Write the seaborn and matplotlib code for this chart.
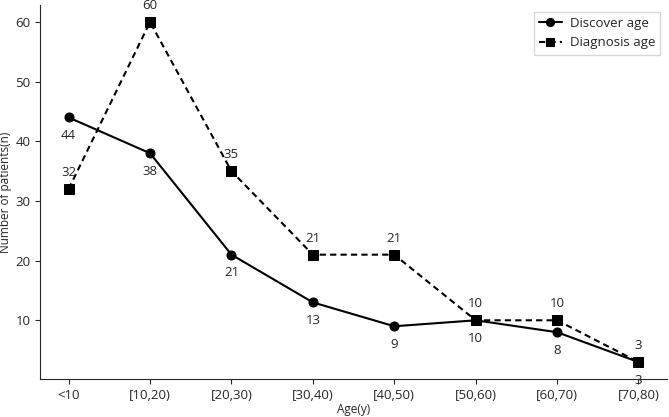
import pandas as pd
import numpy as np
import matplotlib
matplotlib.use('Agg')
import matplotlib.pyplot as plt
import seaborn as sns

# donnees
age_groups = ['<10', '[10,20)', '[20,30)', '[30,40)', '[40,50)', '[50,60)', '[60,70)', '[70,80)']
discover = [44, 38, 21, 13, 9, 10, 8, 3]
diagnosis = [32, 60, 35, 21, 21, 10, 10, 3]

sns.set_style('ticks')
plt.rcParams['font.family'] = ['Open Sans', 'DejaVu Sans']

x = np.arange(len(age_groups))
df = pd.DataFrame({
    'x': np.concatenate([x, x]),
    'n': discover + diagnosis,
    'group': ['Discover age'] * len(x) + ['Diagnosis age'] * len(x),
})

fig = plt.figure(figsize=(6.69, 4.17), dpi=100)
ax = fig.add_axes([0.06, 0.091, 0.937, 0.897])

sns.lineplot(
    data=df, x='x', y='n', hue='group', style='group',
    palette={'Discover age': 'black', 'Diagnosis age': 'black'},
    dashes={'Discover age': '', 'Diagnosis age': (3, 2)},
    markers={'Discover age': 'o', 'Diagnosis age': 's'},
    markersize=6.5, markeredgecolor='black', linewidth=1.5, ax=ax,
)

# etiquettes des valeurs
for xi, v in zip(x, discover):
    ax.annotate(str(v), (xi, v), xytext=(0, -13), textcoords='offset points',
                ha='center', va='center', fontsize=9.5)
for xi, v in zip(x, diagnosis):
    ax.annotate(str(v), (xi, v), xytext=(0, 12), textcoords='offset points',
                ha='center', va='center', fontsize=9.5)

ax.set_xticks(x)
ax.set_xticklabels(age_groups, fontsize=9.5)
ax.set_yticks([10, 20, 30, 40, 50, 60])
ax.tick_params(axis='y', labelsize=9.5)
ax.set_xlabel('Age(y)', fontsize=8.5, labelpad=1)
ax.set_ylabel('Number of patients(n)', fontsize=8.5)
ax.yaxis.set_label_coords(-0.045, 0.5)
sns.despine(ax=ax)

ax.legend(loc='upper right', fontsize=9.5, frameon=True, edgecolor='#cccccc',
          fancybox=False, handlelength=1.7, handletextpad=0.6, markerscale=0.9)

plt.savefig('out.png', dpi=100)
